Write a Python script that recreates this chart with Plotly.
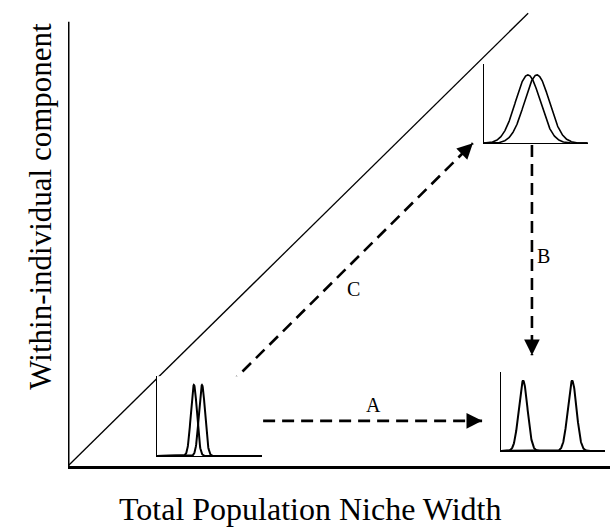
import numpy as np
import plotly.graph_objects as go

# main panel, both axes run 0..100 (schematic units)
diag_x = [0, 84.9]
diag_y = [0, 99.3]
yaxis_top = 97.4

# dashed transitions: (x0, y0) -> (x1, y1)
arrow_names = ['A', 'B', 'C']
arrow_x0 = [36.0, 85.6, 29.7]
arrow_y0 = [9.9, 70.4, 17.8]
arrow_x1 = [76.4, 85.6, 74.7]
arrow_y1 = [9.9, 24.3, 70.8]
label_x = [56.3, 87.8, 52.6]
label_y = [13.4, 46.1, 38.8]

# inset niches: two individuals per inset (means, widths) on 0..1
inset_means = [[0.352, 0.429], [0.423, 0.51], [0.212, 0.683]]
inset_sds = [0.029, 0.12, 0.042]
inset_peak = [0.89, 0.86, 0.89]
inset_xdom = [[0.164, 0.358], [0.7675, 0.959], [0.799, 0.991]]
inset_ydom = [[0.022, 0.197], [0.708, 0.882], [0.033, 0.206]]
inset_lw = [2, 1.6, 2]

SERIF = 'Liberation Serif, Times New Roman, serif'

fig = go.Figure()

fig.add_trace(go.Scatter(x=diag_x, y=diag_y, mode='lines',
                         line=dict(color='black', width=1.3)))

for i in range(3):
    fig.add_trace(go.Scatter(x=[arrow_x0[i], arrow_x1[i]], y=[arrow_y0[i], arrow_y1[i]],
                             mode='lines',
                             line=dict(color='black', width=2.6, dash='12px,7px')))
    dx = arrow_x1[i] - arrow_x0[i]
    dy = arrow_y1[i] - arrow_y0[i]
    n = np.hypot(dx, dy)
    fig.add_annotation(x=arrow_x1[i], y=arrow_y1[i], xref='x', yref='y',
                       ax=arrow_x1[i] - 3 * dx / n, ay=arrow_y1[i] - 3 * dy / n,
                       axref='x', ayref='y', text='', showarrow=True,
                       arrowhead=2, arrowsize=1.2, arrowwidth=2.6, arrowcolor='black')
    fig.add_annotation(x=label_x[i], y=label_y[i], xref='x', yref='y',
                       text=arrow_names[i], showarrow=False,
                       font=dict(family=SERIF, size=20, color='black'))

xs = np.linspace(0, 1, 400)
for k in range(3):
    ax_id = k + 2
    for m in inset_means[k]:
        dens = inset_peak[k] * np.exp(-0.5 * ((xs - m) / inset_sds[k]) ** 2)
        fig.add_trace(go.Scatter(x=xs, y=dens, mode='lines',
                                 xaxis='x%d' % ax_id, yaxis='y%d' % ax_id,
                                 line=dict(color='black', width=inset_lw[k])))
    fig.update_layout(**{
        'xaxis%d' % ax_id: dict(domain=inset_xdom[k], range=[0, 1], anchor='y%d' % ax_id,
                                showline=True, linecolor='black', linewidth=1,
                                showgrid=False, zeroline=False, showticklabels=False, ticks=''),
        'yaxis%d' % ax_id: dict(domain=inset_ydom[k], range=[0, 1], anchor='x%d' % ax_id,
                                showline=True, linecolor='black', linewidth=1,
                                showgrid=False, zeroline=False, showticklabels=False, ticks=''),
    })

# left main axis drawn only up to its own top
fig.add_shape(type='line', xref='x', yref='y', x0=0, x1=0, y0=0, y1=yaxis_top,
              line=dict(color='black', width=3))

fig.add_annotation(x=0.448, y=-0.094, xref='paper', yref='paper',
                   text='Total Population Niche Width', showarrow=False,
                   xanchor='center', yanchor='middle',
                   font=dict(family=SERIF, size=32, color='black'))
fig.add_annotation(x=-0.0524, y=0.57, xref='paper', yref='paper',
                   text='Within-individual component', showarrow=False, textangle=-90,
                   xanchor='center', yanchor='middle',
                   font=dict(family=SERIF, size=31, color='black'))

fig.update_layout(
    width=610, height=527,
    margin=dict(l=68, r=0, t=10, b=61),
    paper_bgcolor='white', plot_bgcolor='white',
    showlegend=False,
    xaxis=dict(range=[0, 100], showline=True, linecolor='black', linewidth=3,
               showgrid=False, zeroline=False, showticklabels=False, ticks=''),
    yaxis=dict(range=[0, 100], showline=False,
               showgrid=False, zeroline=False, showticklabels=False, ticks=''),
)

fig.write_html('out.html', config={'displayModeBar': False},
               post_script="document.body.style.margin='0px';")
